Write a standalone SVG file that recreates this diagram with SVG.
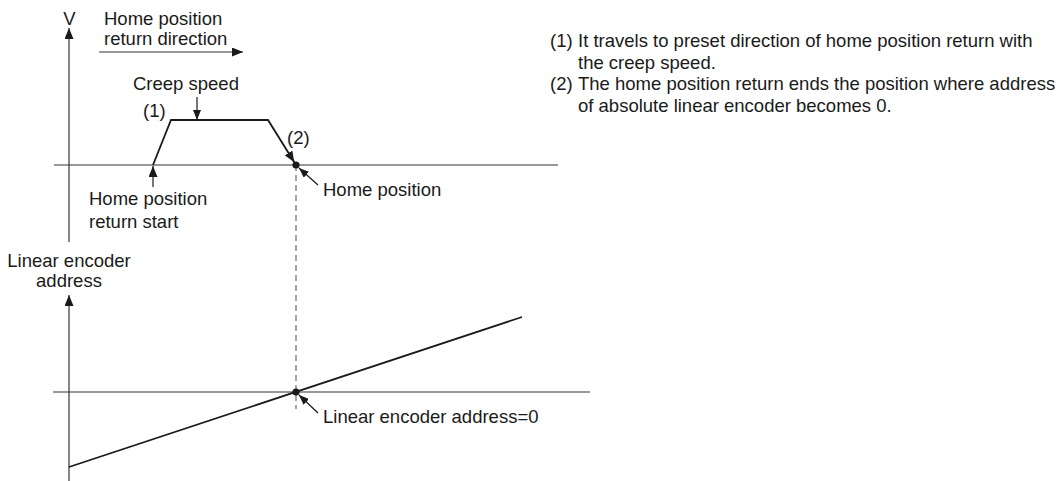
<svg xmlns="http://www.w3.org/2000/svg" width="1062" height="481" viewBox="0 0 1062 481">
<style>
text{font-family:"Liberation Sans",Arial,sans-serif;font-size:18.5px;fill:#1a1a1a}
.axis{stroke:#333;stroke-width:1.2;fill:none}
.curve{stroke:#1a1a1a;stroke-width:1.8;fill:none}
.ptr{stroke:#1a1a1a;stroke-width:1.2;fill:none}
.dash{stroke:#777;stroke-width:1.3;stroke-dasharray:6 4;fill:none}
.mid{text-anchor:middle}
</style>
<defs>
<marker id="ah" markerUnits="userSpaceOnUse" markerWidth="11" markerHeight="9" refX="11" refY="4.5" orient="auto">
<path d="M0,0 L11,4.5 L0,9 z" fill="#1a1a1a"/>
</marker>
<marker id="ahs" markerUnits="userSpaceOnUse" markerWidth="10" markerHeight="8" refX="10" refY="4" orient="auto">
<path d="M0,0 L10,4 L0,8 z" fill="#1a1a1a"/>
</marker>
</defs>
<g id="connectors">
<line class="axis" x1="69" y1="242" x2="69" y2="28" marker-end="url(#ah)"/>
<line class="axis" x1="54" y1="165" x2="558" y2="165"/>
<line class="axis" x1="99" y1="52" x2="243" y2="52" marker-end="url(#ah)"/>
<polyline class="curve" points="153,165 171,120 268,120 294.3,162.3" marker-end="url(#ah)"/>
<line class="ptr" x1="197" y1="97" x2="197" y2="120" marker-end="url(#ahs)"/>
<line class="ptr" x1="153" y1="187" x2="153" y2="166" marker-end="url(#ah)"/>
<line class="ptr" x1="318" y1="185" x2="299" y2="168" marker-end="url(#ahs)"/>
<line class="dash" x1="296" y1="165" x2="296" y2="409"/>
<line class="axis" x1="69" y1="481" x2="69" y2="295" marker-end="url(#ah)"/>
<line class="axis" x1="53" y1="392" x2="590" y2="392"/>
<line class="curve" x1="69" y1="467" x2="522" y2="317"/>
<line class="ptr" x1="318" y1="413" x2="299" y2="395" marker-end="url(#ahs)"/>
</g>
<g id="dot-home"><circle cx="296" cy="165" r="3.6" fill="#1a1a1a"/></g>
<g id="dot-zero"><circle cx="296" cy="392" r="3.6" fill="#1a1a1a"/></g>
<g id="label-v"><text x="69.5" y="25" class="mid">V</text></g>
<g id="label-direction"><text x="104" y="25">Home position</text><text x="104" y="45">return direction</text></g>
<g id="label-creep"><text x="133" y="90">Creep speed</text></g>
<g id="label-1"><text x="143" y="117">(1)</text></g>
<g id="label-2"><text x="287" y="144">(2)</text></g>
<g id="label-start"><text x="89" y="205">Home position</text><text x="89" y="228">return start</text></g>
<g id="label-home"><text x="323" y="196">Home position</text></g>
<g id="label-address-axis"><text x="69" y="267" class="mid">Linear encoder</text><text x="69" y="287" class="mid">address</text></g>
<g id="label-zero"><text x="323" y="423">Linear encoder address=0</text></g>
<g id="notes">
<text x="550" y="47">(1)</text><text x="578" y="47">It travels to preset direction of home position return with</text>
<text x="578" y="68.5">the creep speed.</text>
<text x="550" y="90">(2)</text><text x="578" y="90">The home position return ends the position where address</text>
<text x="578" y="111.5">of absolute linear encoder becomes 0.</text>
</g>
</svg>
